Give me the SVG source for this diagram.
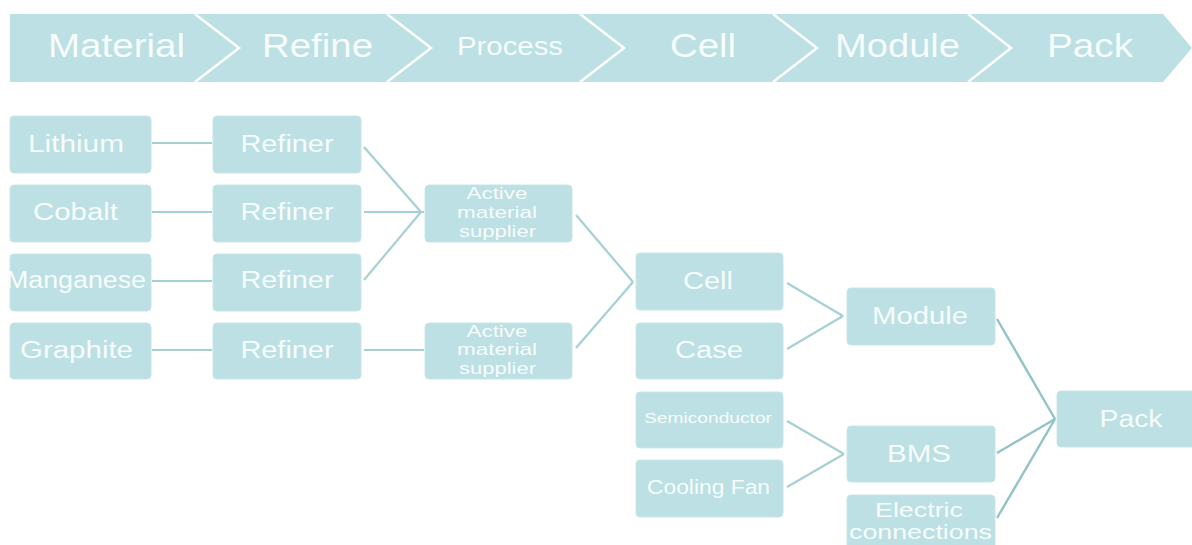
<svg xmlns="http://www.w3.org/2000/svg" width="1192" height="545" viewBox="0 0 1192 545">
<style>
.bar{fill:#BCE0E3}
.sep{fill:none;stroke:#FFFFFF;stroke-width:2.5}
.box{fill:#BCE0E3;stroke:#C8E6E8;stroke-width:1}
.t{font-family:"Liberation Sans",Arial,sans-serif;fill:#F7FCFC;text-anchor:middle}
.h{font-size:33px}
.n{font-size:23px}
.s{font-size:17px}
.e{font-size:21px}
.c{fill:none;stroke:#A6D0D3;stroke-width:2.2}
.d{fill:none;stroke:#92C3C6;stroke-width:2.4}
</style>
<rect width="1192" height="545" fill="#FFFFFF"/>
<g id="header">
<polygon class="bar" points="10,14 1163,14 1192,48 1163,82 10,82"/>
<polyline class="sep" points="195,14 239,48 195,82"/>
<polyline class="sep" points="387,14 431,48 387,82"/>
<polyline class="sep" points="580,14 624,48 580,82"/>
<polyline class="sep" points="773,14 817,48 773,82"/>
<polyline class="sep" points="968,14 1011,48 968,82"/>
<text class="t h" x="116.5" y="57" textLength="137" lengthAdjust="spacingAndGlyphs">Material</text>
<text class="t h" x="317.5" y="57" textLength="111" lengthAdjust="spacingAndGlyphs">Refine</text>
<text class="t" style="font-size:25px" x="510" y="55" textLength="106" lengthAdjust="spacingAndGlyphs">Process</text>
<text class="t h" x="703" y="57" textLength="66" lengthAdjust="spacingAndGlyphs">Cell</text>
<text class="t h" x="897.5" y="57" textLength="125" lengthAdjust="spacingAndGlyphs">Module</text>
<text class="t h" x="1090" y="57" textLength="86" lengthAdjust="spacingAndGlyphs">Pack</text>
</g>
<g id="connectors">
<line class="c" x1="152" y1="143" x2="212" y2="143"/>
<line class="c" x1="152" y1="212" x2="212" y2="212"/>
<line class="c" x1="152" y1="281" x2="212" y2="281"/>
<line class="c" x1="152" y1="350" x2="212" y2="350"/>
<line class="c" x1="364" y1="147" x2="421" y2="212"/>
<line class="c" x1="364" y1="212" x2="424" y2="212"/>
<line class="c" x1="364" y1="280" x2="421" y2="212"/>
<line class="c" x1="364" y1="350" x2="424" y2="350"/>
<line class="c" x1="576" y1="215" x2="633" y2="282"/>
<line class="c" x1="576" y1="348" x2="633" y2="282"/>
<line class="c" x1="787" y1="283" x2="843" y2="316"/>
<line class="c" x1="787" y1="349" x2="843" y2="316"/>
<line class="c" x1="787" y1="421" x2="844" y2="454"/>
<line class="c" x1="787" y1="487" x2="844" y2="454"/>
<line class="d" x1="997" y1="319" x2="1055" y2="419"/>
<line class="d" x1="997" y1="453" x2="1055" y2="419"/>
<line class="d" x1="997" y1="518" x2="1055" y2="419"/>
</g>
<g id="lithium"><rect class="box" x="10" y="116" width="141" height="57" rx="4"/><text class="t n" x="76" y="152" textLength="96" lengthAdjust="spacingAndGlyphs">Lithium</text></g>
<g id="cobalt"><rect class="box" x="10" y="185" width="141" height="57" rx="4"/><text class="t n" x="75.5" y="220" textLength="85" lengthAdjust="spacingAndGlyphs">Cobalt</text></g>
<g id="manganese"><rect class="box" x="10" y="254" width="141" height="57" rx="4"/><text class="t n" x="76" y="288" textLength="140" lengthAdjust="spacingAndGlyphs">Manganese</text></g>
<g id="graphite"><rect class="box" x="10" y="323" width="141" height="56" rx="4"/><text class="t n" x="76.5" y="358" textLength="113" lengthAdjust="spacingAndGlyphs">Graphite</text></g>
<g id="refiner1"><rect class="box" x="213" y="116" width="148" height="57" rx="4"/><text class="t n" x="287" y="152" textLength="93" lengthAdjust="spacingAndGlyphs">Refiner</text></g>
<g id="refiner2"><rect class="box" x="213" y="185" width="148" height="57" rx="4"/><text class="t n" x="287" y="220" textLength="93" lengthAdjust="spacingAndGlyphs">Refiner</text></g>
<g id="refiner3"><rect class="box" x="213" y="254" width="148" height="57" rx="4"/><text class="t n" x="287" y="288" textLength="93" lengthAdjust="spacingAndGlyphs">Refiner</text></g>
<g id="refiner4"><rect class="box" x="213" y="323" width="148" height="56" rx="4"/><text class="t n" x="287" y="358" textLength="93" lengthAdjust="spacingAndGlyphs">Refiner</text></g>
<g id="ams1"><rect class="box" x="425" y="185" width="147" height="57" rx="4"/>
<text class="t s" x="497" y="199" textLength="61" lengthAdjust="spacingAndGlyphs">Active</text>
<text class="t s" x="497" y="218" textLength="80" lengthAdjust="spacingAndGlyphs">material</text>
<text class="t s" x="497.5" y="237" textLength="77" lengthAdjust="spacingAndGlyphs">supplier</text></g>
<g id="ams2"><rect class="box" x="425" y="323" width="147" height="56" rx="4"/>
<text class="t s" x="497" y="337" textLength="61" lengthAdjust="spacingAndGlyphs">Active</text>
<text class="t s" x="497" y="355" textLength="80" lengthAdjust="spacingAndGlyphs">material</text>
<text class="t s" x="497.5" y="374" textLength="77" lengthAdjust="spacingAndGlyphs">supplier</text></g>
<g id="cell"><rect class="box" x="636" y="253" width="147" height="57" rx="4"/><text class="t n" x="708" y="289" textLength="50" lengthAdjust="spacingAndGlyphs">Cell</text></g>
<g id="case"><rect class="box" x="636" y="323" width="147" height="56" rx="4"/><text class="t n" x="709" y="358" textLength="68" lengthAdjust="spacingAndGlyphs">Case</text></g>
<g id="semiconductor"><rect class="box" x="636" y="392" width="147" height="56" rx="4"/><text class="t" style="font-size:15px" x="708" y="423" textLength="128" lengthAdjust="spacingAndGlyphs">Semiconductor</text></g>
<g id="coolingfan"><rect class="box" x="636" y="460" width="147" height="57" rx="4"/><text class="t" style="font-size:20px" x="708.5" y="494" textLength="123" lengthAdjust="spacingAndGlyphs">Cooling Fan</text></g>
<g id="module"><rect class="box" x="847" y="288" width="148" height="57" rx="4"/><text class="t n" x="920" y="324" textLength="96" lengthAdjust="spacingAndGlyphs">Module</text></g>
<g id="bms"><rect class="box" x="847" y="426" width="148" height="56" rx="4"/><text class="t n" x="919" y="462" textLength="64" lengthAdjust="spacingAndGlyphs">BMS</text></g>
<g id="electric"><rect class="box" x="847" y="495" width="148" height="56" rx="4"/>
<text class="t e" x="919" y="517" textLength="88" lengthAdjust="spacingAndGlyphs">Electric</text>
<text class="t e" x="920.5" y="539" textLength="143" lengthAdjust="spacingAndGlyphs">connections</text></g>
<g id="pack"><rect class="box" x="1057" y="391" width="140" height="56" rx="4"/><text class="t n" x="1131" y="427" textLength="63" lengthAdjust="spacingAndGlyphs">Pack</text></g>
</svg>
